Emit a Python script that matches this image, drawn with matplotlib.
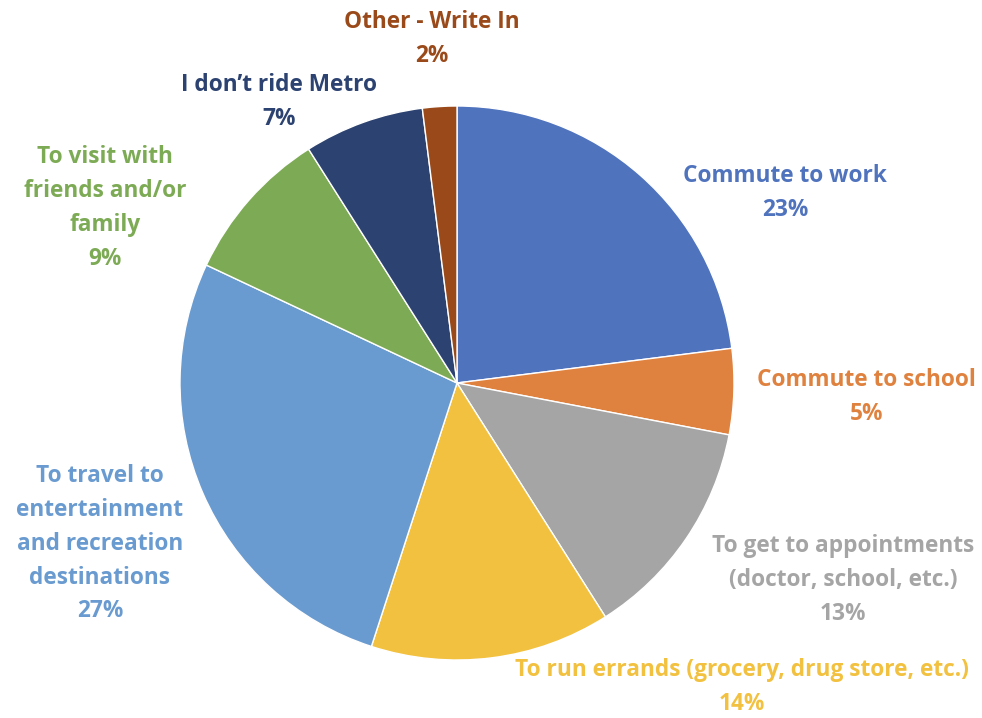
import matplotlib
matplotlib.use("Agg")
import matplotlib.pyplot as plt

categories = ["Commute to work", "Commute to school",
              "To get to appointments\n(doctor, school, etc.)",
              "To run errands (grocery, drug store, etc.)",
              "To travel to\nentertainment\nand recreation\ndestinations",
              "To visit with\nfriends and/or\nfamily",
              "I don\u2019t ride Metro", "Other - Write In"]
values = [23, 5, 13, 14, 27, 9, 7, 2]
colors = ["#5073BE", "#E0823F", "#A5A5A5", "#F2C13F", "#6A9BD0", "#7DAB55", "#2C4270", "#9A4A1A"]
# label centres in pie units (radius = 1)
label_pos = [(1.184, 0.686), (1.477, -0.051), (1.394, -0.711), (1.029, -1.098),
             (-1.289, -0.581), (-1.271, 0.632), (-0.643, 1.014), (-0.090, 1.242)]

plt.rcParams['font.family'] = ['Open Sans', 'DejaVu Sans']

fig = plt.figure(figsize=(9.82, 7.18), dpi=100)
ax = fig.add_axes([180/982, 58/718, 554/982, 554/718])
ax.pie(values, colors=colors, startangle=90, counterclock=False, radius=1,
       wedgeprops=dict(edgecolor="white", linewidth=1))
ax.set_xlim(-1, 1)
ax.set_ylim(-1, 1)
ax.set_aspect("equal")
ax.axis("off")

for cat, v, c, (x, y) in zip(categories, values, colors, label_pos):
    ax.text(x, y, f"{cat}\n{v}%", color=c, fontsize=16.3, fontweight="bold",
            ha="center", va="center", linespacing=1.54, clip_on=False)

fig.savefig("out.png", dpi=100)
